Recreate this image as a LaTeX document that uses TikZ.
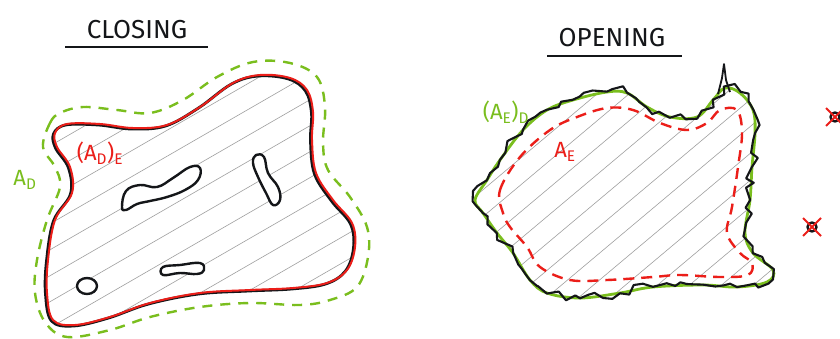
\documentclass[tikz,border=0pt]{standalone}
\usepackage{fontspec}
\setsansfont{Fira Sans}
\usepackage{xcolor}
\usetikzlibrary{decorations.pathmorphing}

\definecolor{penGreen}{RGB}{122,190,30}
\definecolor{penRed}{RGB}{235,30,25}
\definecolor{penBlack}{RGB}{20,22,25}

\tikzset{
  outline/.style={line width=2.4pt, penBlack, line join=round},
  redline/.style={line width=2pt, penRed},
  reddash/.style={line width=2.4pt, penRed, dash pattern=on 11pt off 7pt},
  greendash/.style={line width=2.4pt, penGreen, dash pattern=on 10pt off 8pt},
  greenline/.style={line width=2.8pt, penGreen},
  jagged/.style={outline, line width=2.1pt, decorate,
    decoration={random steps, segment length=8pt, amplitude=5pt}},
  hatch/.style={gray!75, line width=0.6pt},
  title/.style={font=\sffamily\fontsize{26}{30}\selectfont, penBlack},
  tag/.style={font=\sffamily\fontsize{22}{26}\selectfont, inner sep=0pt},
}

\def\closeshape{plot[smooth cycle, tension=0.6] coordinates {
  (55,133) (67,124) (100,124) (133,128) (167,125) (200,107) (233,83)
  (260,75) (290,78) (307,90) (313,112) (312,140) (316,173) (333,200)
  (352,223) (355,247) (347,270) (327,283) (293,288) (250,290) (200,293)
  (150,303) (110,317) (75,325) (53,320) (47,293) (48,260) (55,220)
  (72,193) (70,167) (57,147)}}
\def\openshape{plot[smooth cycle, tension=0.6] coordinates {
  (475,200) (487,180) (500,160) (523,130) (547,110) (573,100) (607,92)
  (627,93) (647,107) (670,117) (697,117) (713,100) (725,88) (740,93)
  (753,110) (755,133) (752,167) (750,200) (745,233) (753,253) (773,270)
  (767,282) (737,287) (703,285) (653,287) (620,293) (580,298) (547,293)
  (530,280) (513,253) (497,233) (483,213)}}

\begin{document}
\begin{tikzpicture}[x=1pt,y=-1pt]
  \clip (0,0) rectangle (840,338);
  \fill[white] (0,0) rectangle (840,338);

  % closing
  \node[title] (closeT) at (137,30) {CLOSING};
  \draw[outline] (65,47) -- (208,47);

  \draw[greendash] plot[smooth cycle, tension=0.6] coordinates {
    (43,147) (50,123) (60,113) (83,107) (117,110) (150,113) (183,100)
    (217,77) (253,62) (290,63) (317,77) (325,107) (323,143) (328,170)
    (350,197) (367,227) (368,257) (357,287) (330,300) (300,305) (250,303)
    (200,307) (150,317) (110,330) (67,337) (45,322) (35,293) (37,260)
    (47,220) (60,187) (55,167)};

  \begin{scope}
    \clip \closeshape;
    \foreach \x in {-700,-655,...,400}
      \draw[hatch] (\x,345) -- ++(700,-404);
  \end{scope}
  \draw[outline, line width=2.8pt, xshift=-1.5pt, yshift=-1pt] \closeshape;
  \draw[redline] \closeshape;

  % holes
  \draw[outline, fill=white] plot[smooth cycle, tension=0.7] coordinates {
    (122,207) (126,191) (140,185) (157,187) (173,178) (190,167) (200,168)
    (198,180) (185,190) (167,197) (150,201) (137,204) (126,210)};
  \draw[outline, fill=white] plot[smooth cycle, tension=0.7] coordinates {
    (256,155) (264,157) (268,173) (278,187) (280,200) (273,205) (266,193)
    (258,177) (253,163)};
  \draw[outline, fill=white] plot[smooth cycle, tension=0.7] coordinates {
    (163,267) (180,265) (200,263) (204,270) (197,274) (180,273) (163,275)};
  \draw[outline, fill=white] (87,286) ellipse (10pt and 8pt);

  \node[tag, penGreen] (dil) at (25,180) {A\textsubscript{D}};
  \node[tag, penRed] (dilEro) at (100,153) {(A\textsubscript{D})\textsubscript{E}};

  % opening
  \node[title] (openT) at (612,38) {OPENING};
  \draw[outline] (547,56) -- (682,56);

  \begin{scope}
    \clip \openshape;
    \foreach \x in {-100,-68,...,800}
      \draw[hatch] (\x,330) -- ++(400,-336);
  \end{scope}
  \draw[greenline] \openshape;
  \pgfmathsetseed{7}
  \draw[jagged] \openshape;
  \draw[outline, line width=1.8pt] (718,94) -- (722,78) -- (724,64) -- (726,80) -- (730,92);

  \draw[reddash] plot[smooth cycle, tension=0.6] coordinates {
    (503,213) (500,190) (520,157) (550,130) (577,117) (607,108) (633,110)
    (660,123) (687,130) (707,123) (720,110) (737,110) (742,133) (738,167)
    (732,207) (727,233) (740,253) (752,263) (748,275) (720,277) (680,275)
    (653,277) (607,280) (570,280) (540,267) (527,247) (510,227)};

  \node[tag, penGreen] (eroDil) at (506,112) {(A\textsubscript{E})\textsubscript{D}};
  \node[tag, penRed] (ero) at (565,152) {A\textsubscript{E}};

  % removed specks
  \foreach \name/\px/\py in {speckA/835/117, speckB/812/227} {
    \draw[outline, line width=2.4pt] (\px,\py) circle (4.5pt);
    \draw[redline] (\px-9,\py-9) -- (\px+9,\py+9)
                   (\px+9,\py-9) -- (\px-9,\py+9);
  }
\end{tikzpicture}
\end{document}
